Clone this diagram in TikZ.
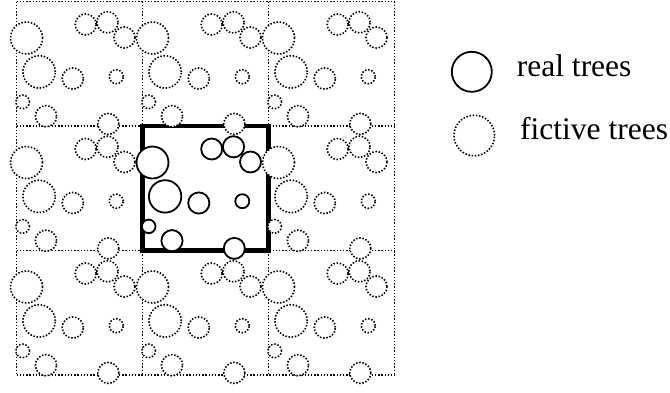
\documentclass[tikz,border=0pt]{standalone}
\usepackage{fontspec}
\setmainfont{Liberation Serif}
\newcommand\treelist{69.2/23/10.5, 91/20.8/10.6, 108/36/10.5, 10/36.5/16, 22.6/70.4/16.2, 56.3/77/10.6, 99.8/75.2/7, 6.2/100.4/6.8, 29.5/114.7/10.6, 91.8/122.4/10.5}
\tikzset{
  dotline/.style={line width=1.6pt, dash pattern=on 1.5pt off 1.7pt},
  fictree/.style={dotline, fill=white},
  realtree/.style={line width=1.8pt, fill=white},
  plotbox/.style={line width=4.5pt, line cap=rect},
  legtext/.style={inner sep=0pt, anchor=base west, font=\fontsize{31.5}{36}\selectfont}
}
\begin{document}
\begin{tikzpicture}[x=1pt,y=-1pt]
\useasboundingbox (0,0) rectangle (670,392);
% grid
\foreach \k in {0,1,2,3} {
  \draw[dotline] ({16.5+\k*126},1.5) -- ({16.5+\k*126},375);
  \draw[dotline] (16.5,{1.5+\k*124.5}) -- (394.5,{1.5+\k*124.5});
}
% central plot
\draw[plotbox] (142.5,126) rectangle (268.5,250.5);
% fictive trees
\foreach \i in {0,1,2} {
  \foreach \j in {0,1,2} {
    \pgfmathtruncatemacro\iscenter{(\i==1)&&(\j==1)}
    \ifnum\iscenter=0
      \foreach \cx/\cy/\r in \treelist {
        \draw[fictree] ({16.5+\i*126+\cx},{1.5+\j*124.5+\cy}) circle[radius=\r pt];
      }
    \fi
  }
}
% real trees
\foreach \cx/\cy/\r in \treelist {
  \draw[realtree] ({142.5+\cx},{126+\cy}) circle[radius=\r pt];
}
% legend
\draw[realtree] (471.8,71.8) circle[radius=20pt];
\draw[fictree] (474.3,135.5) circle[radius=20.3pt];
\node[legtext] (realtxt) at (516.7,76) {real trees};
\node[legtext] (fictxt) at (520,139.3) {fictive trees};
\end{tikzpicture}
\end{document}
